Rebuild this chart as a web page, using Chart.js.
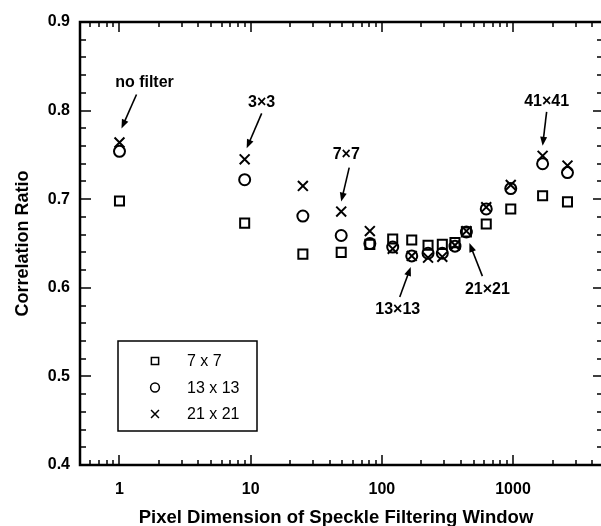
<!DOCTYPE html>
<html lang="en">
<head>
  <meta charset="UTF-8">
  <title>Correlation Ratio vs Speckle Filtering Window</title>
  <style>
    html, body { margin: 0; padding: 0; background: #fff; overflow: hidden; }
  </style>
</head>
<body>
<canvas id="chart" width="601" height="526"></canvas>

<script src="https://cdn.jsdelivr.net/npm/chart.js"></script>
<script>
// pixel dimension of the speckle filtering window (1, 3x3, 5x5 ... 51x51)
const windowPixels = [1, 9, 25, 49, 81, 121, 169, 225, 289, 361, 441, 625, 961, 1681, 2601];
const ratio7x7   = [0.698, 0.673, 0.638, 0.640, 0.649, 0.655, 0.654, 0.648, 0.649, 0.651, 0.663, 0.672, 0.689, 0.704, 0.697];
const ratio13x13 = [0.754, 0.722, 0.681, 0.659, 0.650, 0.646, 0.636, 0.639, 0.639, 0.647, 0.663, 0.689, 0.712, 0.740, 0.730];
const ratio21x21 = [0.764, 0.745, 0.715, 0.686, 0.664, 0.644, 0.636, 0.634, 0.635, 0.648, 0.664, 0.691, 0.716, 0.749, 0.738];
const seriesNames = ["7 x 7", "13 x 13", "21 x 21"];
const xTickLabels = [1, 10, 100, 1000];
const yTickLabels = [0.4, 0.5, 0.6, 0.7, 0.8, 0.9];

// callouts: text, index into windowPixels, value the arrow points at
const callouts = [
  { text: "no filter", i: 0,  v: ratio21x21[0],  tx: 25,  ty: -60, ax: 17,  ay: -48, bx: 2,  by: -14 },
  { text: "3\u00d73",    i: 1,  v: ratio21x21[1],  tx: 17,  ty: -57, ax: 17,  ay: -46, bx: 2,  by: -11 },
  { text: "7\u00d77",    i: 3,  v: ratio21x21[3],  tx: 5,   ty: -57, ax: 8,   ay: -44, bx: 0,  by: -10 },
  { text: "13\u00d713",  i: 6,  v: ratio13x13[6], tx: -14, ty: 54,  ax: -12, ay: 41,  bx: -1, by: 11 },
  { text: "21\u00d721",  i: 10, v: ratio21x21[10], tx: 21,  ty: 58,  ax: 16,  ay: 45,  bx: 3,  by: 12 },
  { text: "41\u00d741",  i: 13, v: ratio21x21[13], tx: 4,   ty: -54, ax: 4,   ay: -44, bx: 0,  by: -10 }
];

const FONT = "'Liberation Sans', Arial, sans-serif";

function pts(arr) {
  return arr.map((v, i) => ({ x: windowPixels[i], y: v }));
}

function arrow(ctx, x1, y1, x2, y2) {
  const ang = Math.atan2(y2 - y1, x2 - x1);
  const hl = 9, hw = 3.5;
  ctx.beginPath();
  ctx.moveTo(x1, y1);
  ctx.lineTo(x2 - Math.cos(ang) * hl * 0.8, y2 - Math.sin(ang) * hl * 0.8);
  ctx.stroke();
  ctx.beginPath();
  ctx.moveTo(x2, y2);
  ctx.lineTo(x2 - Math.cos(ang) * hl - Math.sin(ang) * hw, y2 - Math.sin(ang) * hl + Math.cos(ang) * hw);
  ctx.lineTo(x2 - Math.cos(ang) * hl + Math.sin(ang) * hw, y2 - Math.sin(ang) * hl - Math.cos(ang) * hw);
  ctx.closePath();
  ctx.fill();
}

const framePlugin = {
  id: "frame",
  afterDatasetsDraw(chart) {
    const ctx = chart.ctx;
    const a = chart.chartArea;
    const xs = chart.scales.x, ys = chart.scales.y;
    const edge = chart.width; // right frame edge falls at the picture border
    ctx.save();
    ctx.strokeStyle = "#000";
    ctx.fillStyle = "#000";

    // inward ticks, x (log)
    ctx.lineWidth = 1.5;
    for (let e = -1; e <= 3; e++) {
      for (let k = 1; k <= 9; k++) {
        const v = k * Math.pow(10, e);
        if (v < xs.min || v > xs.max) continue;
        const px = Math.round(xs.getPixelForValue(v));
        const len = k === 1 ? 10 : 5;
        ctx.beginPath();
        ctx.moveTo(px, a.bottom); ctx.lineTo(px, a.bottom - len);
        ctx.moveTo(px, a.top); ctx.lineTo(px, a.top + len);
        ctx.stroke();
      }
    }
    // inward ticks, y
    for (let n = 0; n <= 25; n++) {
      const v = 0.4 + n * 0.02;
      const py = Math.round(ys.getPixelForValue(v));
      const major = n % 5 === 0;
      ctx.beginPath();
      ctx.moveTo(a.left, py); ctx.lineTo(a.left + (major ? 11 : 6), py);
      ctx.moveTo(edge, py); ctx.lineTo(edge - (major ? 8 : 4), py);
      ctx.stroke();
    }

    // frame: left, top, bottom
    ctx.lineWidth = 2.5;
    ctx.beginPath();
    ctx.moveTo(edge, a.top);
    ctx.lineTo(a.left, a.top);
    ctx.lineTo(a.left, a.bottom);
    ctx.lineTo(edge, a.bottom);
    ctx.stroke();

    // callouts
    ctx.font = "bold 16px " + FONT;
    ctx.textAlign = "center";
    ctx.textBaseline = "middle";
    ctx.lineWidth = 1.6;
    callouts.forEach(c => {
      const px = xs.getPixelForValue(windowPixels[c.i]);
      const py = ys.getPixelForValue(c.v);
      ctx.fillText(c.text, px + c.tx, py + c.ty);
      arrow(ctx, px + c.ax, py + c.ay, px + c.bx, py + c.by);
    });

    // legend box
    const lx = 118, ly = 341, lw = 139, lh = 90;
    ctx.lineWidth = 1.5;
    ctx.strokeRect(lx, ly, lw, lh);
    chart.data.datasets.forEach((ds, i) => {
      const y = ly + 20 + i * 26.5;
      ctx.fillStyle = "rgba(0,0,0,0)";
      ctx.lineWidth = 1.5;
      Chart.helpers.drawPoint(ctx, { pointStyle: ds.pointStyle, radius: ds.pointRadius * 0.8, borderWidth: 1.5 }, lx + 37, y);
      ctx.fillStyle = "#000";
      ctx.font = "16px " + FONT;
      ctx.textAlign = "left";
      ctx.textBaseline = "middle";
      ctx.fillText(seriesNames[i], lx + 69, y + 1);
    });
    ctx.restore();
  }
};

const dsBase = {
  showLine: false,
  borderColor: "#000",
  backgroundColor: "rgba(0,0,0,0)",
  borderWidth: 2,
  clip: false
};

new Chart(document.getElementById("chart"), {
  type: "scatter",
  data: {
    datasets: [
      Object.assign({ label: seriesNames[0], data: pts(ratio7x7), pointStyle: "rect", pointRadius: 6.4 }, dsBase),
      Object.assign({ label: seriesNames[1], data: pts(ratio13x13), pointStyle: "circle", pointRadius: 5.5 }, dsBase),
      Object.assign({ label: seriesNames[2], data: pts(ratio21x21), pointStyle: "crossRot", pointRadius: 7 }, dsBase)
    ]
  },
  options: {
    responsive: false,
    animation: false,
    layout: { padding: { top: 22, right: 0, left: 0, bottom: 0 } },
    plugins: { legend: { display: false }, tooltip: { enabled: false } },
    scales: {
      x: {
        type: "logarithmic",
        min: 0.5,
        max: 4000,
        grid: { display: false, drawTicks: false },
        border: { display: false },
        afterBuildTicks: s => { s.ticks = xTickLabels.map(v => ({ value: v })); },
        afterFit: s => { s.height = 61; },
        ticks: {
          color: "#000",
          padding: 15,
          maxRotation: 0,
          font: { family: FONT, size: 16, weight: "bold" },
          callback: v => String(v)
        },
        title: {
          display: true,
          text: "Pixel Dimension of Speckle Filtering Window",
          color: "#000",
          padding: { top: 0, bottom: -1 },
          font: { family: FONT, size: 18.5, weight: "bold", lineHeight: 1 }
        }
      },
      y: {
        min: 0.4,
        max: 0.9,
        grid: { display: false, drawTicks: false },
        border: { display: false },
        afterBuildTicks: s => { s.ticks = yTickLabels.map(v => ({ value: v })); },
        afterFit: s => { s.width = 80; },
        ticks: {
          color: "#000",
          padding: 10,
          font: { family: FONT, size: 16, weight: "bold" },
          callback: v => Number(v).toFixed(1)
        },
        title: {
          display: true,
          text: "Correlation Ratio",
          color: "#000",
          padding: { top: 14, bottom: 0 },
          font: { family: FONT, size: 18, weight: "bold", lineHeight: 1 }
        }
      }
    }
  },
  plugins: [framePlugin]
});
</script>
</body>
</html>
